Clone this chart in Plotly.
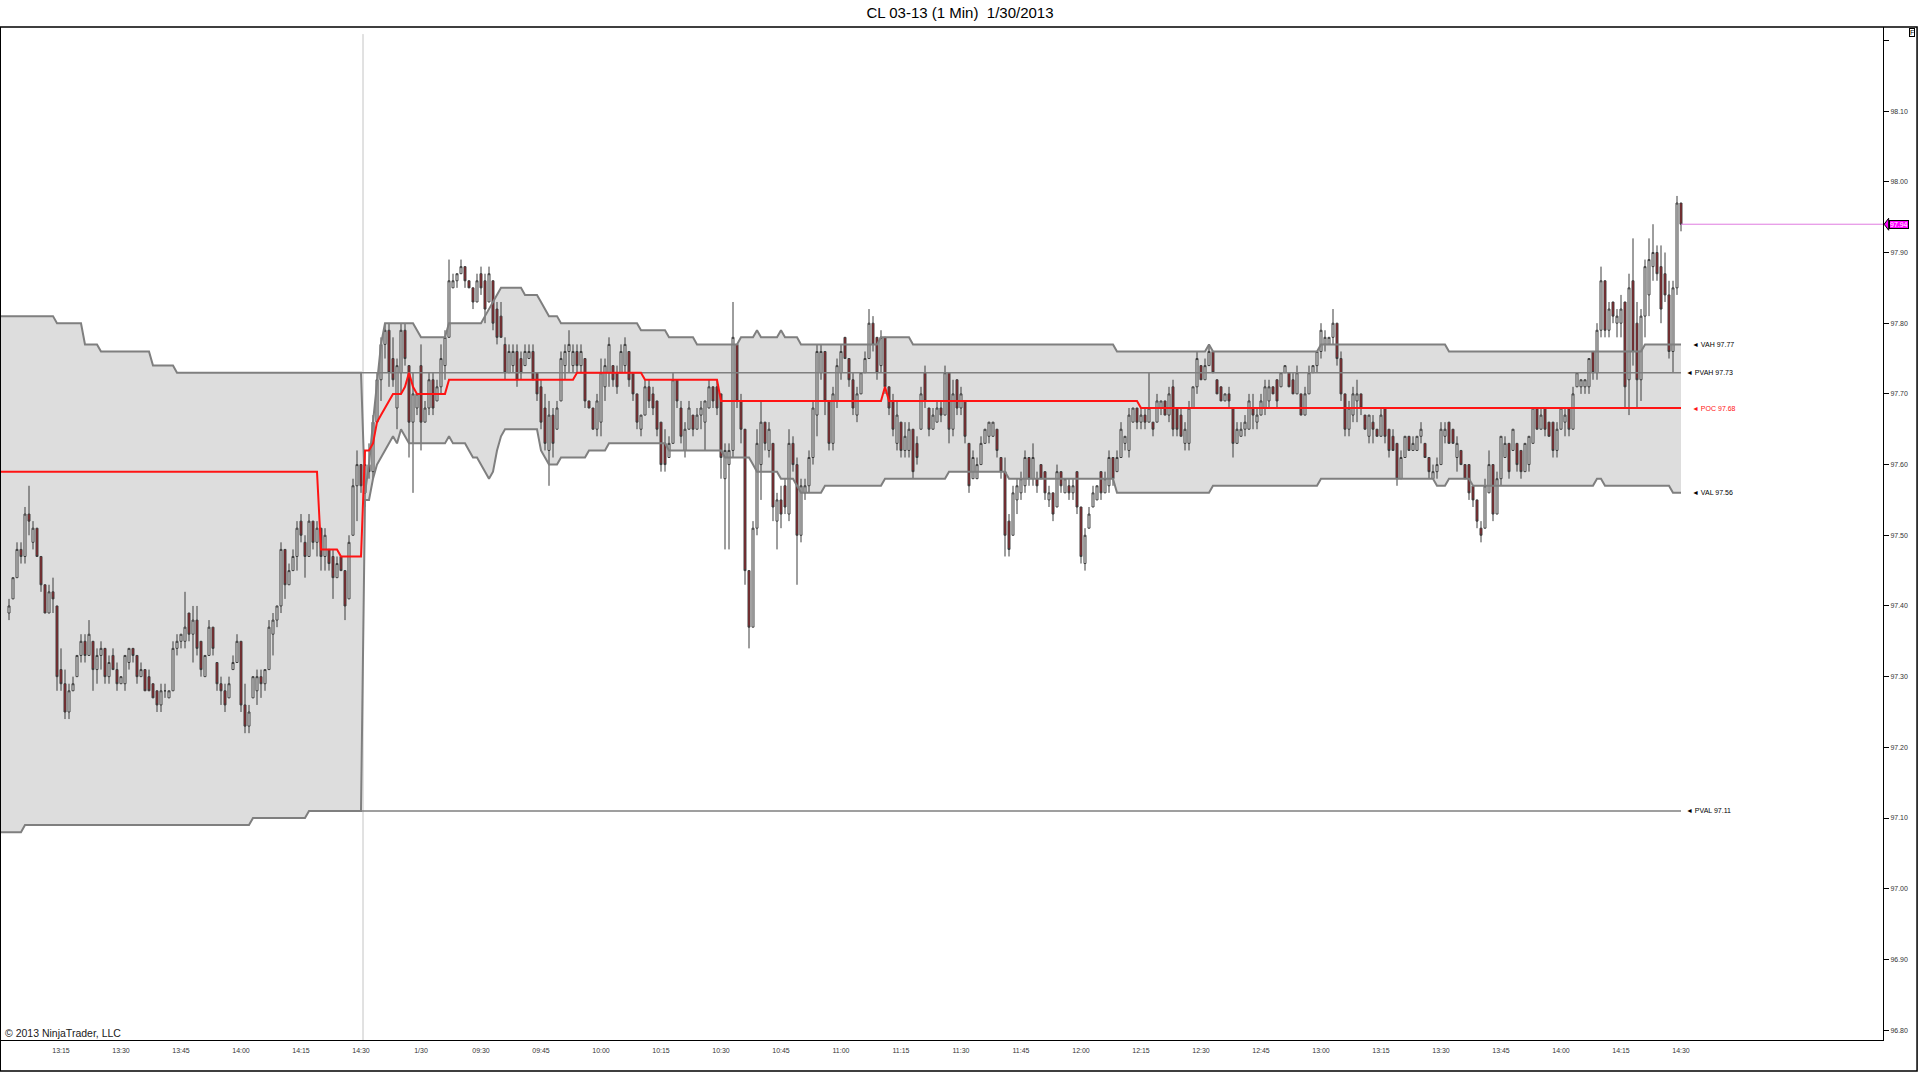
import plotly.graph_objects as go

# CL 03-13, 1 minute bars.  Session 1 = 1/29 13:02..14:30, session 2 = 1/30 09:01..14:30
S1_OPEN = [
    97.39, 97.41, 97.44, 97.48, 97.47, 97.53, 97.49, 97.51, 97.47, 97.43,
    97.39, 97.42, 97.40, 97.31, 97.29, 97.25, 97.28, 97.30, 97.33, 97.35,
    97.33, 97.35, 97.31, 97.33, 97.34, 97.30, 97.33, 97.31, 97.29, 97.29,
    97.32, 97.34, 97.33, 97.30, 97.31, 97.30, 97.29, 97.28, 97.26, 97.28,
    97.27, 97.28, 97.34, 97.35, 97.35, 97.39, 97.36, 97.38, 97.35, 97.30,
    97.33, 97.37, 97.32, 97.29, 97.28, 97.27, 97.31, 97.32, 97.35, 97.26,
    97.23, 97.27, 97.28, 97.30, 97.29, 97.31, 97.36, 97.38, 97.40, 97.48,
    97.43, 97.45, 97.47, 97.52, 97.49, 97.47, 97.52, 97.49, 97.51, 97.47,
    97.48, 97.47, 97.44, 97.47, 97.45, 97.41, 97.50, 97.57, 97.60]
S1_HIGH = [
    97.41, 97.44, 97.49, 97.49, 97.54, 97.57, 97.52, 97.51, 97.47, 97.43,
    97.43, 97.44, 97.40, 97.34, 97.31, 97.29, 97.30, 97.33, 97.36, 97.36,
    97.38, 97.35, 97.34, 97.35, 97.34, 97.33, 97.34, 97.32, 97.30, 97.33,
    97.34, 97.34, 97.33, 97.32, 97.31, 97.31, 97.29, 97.28, 97.29, 97.29,
    97.28, 97.35, 97.36, 97.36, 97.42, 97.39, 97.40, 97.40, 97.35, 97.33,
    97.38, 97.37, 97.32, 97.30, 97.29, 97.30, 97.33, 97.36, 97.35, 97.29,
    97.26, 97.30, 97.31, 97.31, 97.31, 97.38, 97.39, 97.40, 97.49, 97.48,
    97.46, 97.48, 97.52, 97.53, 97.50, 97.53, 97.52, 97.52, 97.51, 97.51,
    97.48, 97.48, 97.47, 97.47, 97.45, 97.50, 97.58, 97.62, 97.60]
S1_LOW = [
    97.38, 97.41, 97.44, 97.46, 97.46, 97.50, 97.48, 97.47, 97.42, 97.39,
    97.39, 97.39, 97.28, 97.28, 97.24, 97.24, 97.28, 97.30, 97.32, 97.32,
    97.33, 97.28, 97.29, 97.31, 97.29, 97.29, 97.31, 97.28, 97.29, 97.28,
    97.31, 97.32, 97.29, 97.30, 97.28, 97.28, 97.27, 97.25, 97.25, 97.27,
    97.27, 97.28, 97.33, 97.34, 97.34, 97.35, 97.32, 97.33, 97.30, 97.30,
    97.33, 97.33, 97.28, 97.26, 97.25, 97.27, 97.31, 97.32, 97.25, 97.22,
    97.22, 97.27, 97.26, 97.27, 97.28, 97.31, 97.33, 97.37, 97.39, 97.41,
    97.43, 97.45, 97.45, 97.49, 97.44, 97.47, 97.48, 97.47, 97.45, 97.45,
    97.45, 97.41, 97.44, 97.45, 97.38, 97.41, 97.50, 97.52, 97.56]
S1_CLOSE = [
    97.40, 97.44, 97.48, 97.47, 97.53, 97.52, 97.51, 97.47, 97.43, 97.39,
    97.42, 97.41, 97.30, 97.29, 97.25, 97.28, 97.29, 97.33, 97.35, 97.33,
    97.36, 97.31, 97.33, 97.34, 97.30, 97.32, 97.31, 97.29, 97.30, 97.33,
    97.34, 97.33, 97.30, 97.31, 97.28, 97.28, 97.27, 97.26, 97.28, 97.28,
    97.28, 97.34, 97.35, 97.36, 97.37, 97.36, 97.38, 97.34, 97.31, 97.33,
    97.37, 97.34, 97.29, 97.28, 97.26, 97.29, 97.32, 97.35, 97.26, 97.23,
    97.25, 97.30, 97.30, 97.29, 97.31, 97.37, 97.38, 97.40, 97.48, 97.43,
    97.45, 97.47, 97.51, 97.50, 97.47, 97.52, 97.49, 97.51, 97.47, 97.50,
    97.46, 97.44, 97.46, 97.45, 97.40, 97.49, 97.57, 97.60, 97.57]

S2_OPEN = [
    97.56, 97.60, 97.59, 97.66, 97.72, 97.77, 97.79, 97.75, 97.68, 97.73,
    97.79, 97.74, 97.66, 97.68, 97.74, 97.66, 97.68, 97.72, 97.69, 97.71,
    97.74, 97.78, 97.85, 97.86, 97.87, 97.88, 97.86, 97.85, 97.83, 97.87,
    97.86, 97.83, 97.86, 97.82, 97.81, 97.77, 97.73, 97.74, 97.76, 97.75,
    97.74, 97.75, 97.76, 97.73, 97.71, 97.68, 97.62, 97.67, 97.65, 97.69,
    97.74, 97.76, 97.74, 97.76, 97.74, 97.75, 97.69, 97.68, 97.65, 97.66,
    97.71, 97.73, 97.74, 97.73, 97.73, 97.74, 97.76, 97.73, 97.70, 97.65,
    97.67, 97.71, 97.70, 97.69, 97.66, 97.63, 97.61, 97.63, 97.72, 97.68,
    97.62, 97.65, 97.67, 97.65, 97.67, 97.66, 97.68, 97.71, 97.71, 97.70,
    97.58, 97.60, 97.62, 97.77, 97.69, 97.65, 97.45, 97.37, 97.51, 97.60,
    97.66, 97.62, 97.63, 97.52, 97.55, 97.57, 97.53, 97.63, 97.60, 97.50,
    97.56, 97.57, 97.61, 97.67, 97.73, 97.76, 97.69, 97.63, 97.69, 97.73,
    97.78, 97.75, 97.72, 97.67, 97.70, 97.73, 97.75, 97.80, 97.78, 97.74,
    97.78, 97.71, 97.69, 97.63, 97.66, 97.62, 97.62, 97.65, 97.63, 97.65,
    97.73, 97.68, 97.65, 97.66, 97.68, 97.67, 97.73, 97.65, 97.72, 97.68,
    97.69, 97.63, 97.58, 97.58, 97.60, 97.63, 97.64, 97.64, 97.65, 97.61,
    97.59, 97.52, 97.50, 97.55, 97.56, 97.57, 97.61, 97.58, 97.58, 97.60,
    97.59, 97.55, 97.56, 97.54, 97.59, 97.56, 97.57, 97.56, 97.59, 97.54,
    97.46, 97.51, 97.54, 97.55, 97.59, 97.56, 97.57, 97.61, 97.59, 97.61,
    97.63, 97.62, 97.66, 97.68, 97.66, 97.67, 97.66, 97.66, 97.66, 97.68,
    97.69, 97.67, 97.71, 97.68, 97.67, 97.63, 97.63, 97.68, 97.71, 97.74,
    97.72, 97.74, 97.76, 97.72, 97.71, 97.69, 97.70, 97.68, 97.63, 97.64,
    97.65, 97.65, 97.68, 97.66, 97.67, 97.68, 97.69, 97.71, 97.72, 97.71,
    97.73, 97.73, 97.72, 97.70, 97.70, 97.67, 97.70, 97.73, 97.74, 97.76,
    97.77, 97.77, 97.78, 97.80, 97.75, 97.70, 97.65, 97.67, 97.69, 97.70,
    97.67, 97.64, 97.66, 97.65, 97.64, 97.68, 97.65, 97.64, 97.63, 97.58,
    97.61, 97.64, 97.62, 97.62, 97.64, 97.63, 97.61, 97.58, 97.59, 97.60,
    97.64, 97.66, 97.65, 97.61, 97.62, 97.60, 97.60, 97.57, 97.55, 97.51,
    97.51, 97.56, 97.60, 97.53, 97.58, 97.61, 97.63, 97.62, 97.63, 97.62,
    97.59, 97.60, 97.63, 97.68, 97.65, 97.68, 97.66, 97.66, 97.62, 97.65,
    97.66, 97.68, 97.65, 97.71, 97.71, 97.71, 97.71, 97.76, 97.73, 97.79,
    97.86, 97.79, 97.83, 97.80, 97.80, 97.83, 97.72, 97.86, 97.80, 97.72,
    97.81, 97.84, 97.88, 97.90, 97.88, 97.87, 97.84, 97.76, 97.85, 97.97]
S2_HIGH = [
    97.62, 97.63, 97.67, 97.73, 97.78, 97.80, 97.80, 97.78, 97.75, 97.80,
    97.80, 97.74, 97.73, 97.70, 97.77, 97.69, 97.73, 97.73, 97.72, 97.77,
    97.79, 97.89, 97.87, 97.87, 97.89, 97.88, 97.86, 97.85, 97.87, 97.88,
    97.87, 97.88, 97.86, 97.83, 97.83, 97.78, 97.77, 97.77, 97.77, 97.76,
    97.77, 97.77, 97.77, 97.73, 97.72, 97.70, 97.69, 97.68, 97.69, 97.76,
    97.77, 97.79, 97.77, 97.77, 97.77, 97.75, 97.69, 97.68, 97.70, 97.75,
    97.75, 97.78, 97.74, 97.74, 97.77, 97.78, 97.76, 97.73, 97.70, 97.67,
    97.72, 97.72, 97.71, 97.69, 97.66, 97.65, 97.64, 97.73, 97.72, 97.69,
    97.66, 97.69, 97.67, 97.68, 97.69, 97.69, 97.72, 97.71, 97.72, 97.70,
    97.63, 97.63, 97.83, 97.77, 97.70, 97.65, 97.45, 97.52, 97.65, 97.69,
    97.66, 97.66, 97.63, 97.56, 97.57, 97.58, 97.65, 97.64, 97.61, 97.58,
    97.58, 97.62, 97.69, 97.77, 97.77, 97.76, 97.69, 97.71, 97.75, 97.77,
    97.78, 97.75, 97.73, 97.71, 97.73, 97.76, 97.82, 97.81, 97.78, 97.79,
    97.78, 97.71, 97.70, 97.69, 97.66, 97.66, 97.66, 97.65, 97.64, 97.71,
    97.74, 97.68, 97.68, 97.69, 97.69, 97.74, 97.73, 97.72, 97.72, 97.71,
    97.69, 97.63, 97.62, 97.61, 97.64, 97.65, 97.66, 97.66, 97.65, 97.61,
    97.61, 97.53, 97.57, 97.58, 97.59, 97.62, 97.61, 97.63, 97.59, 97.60,
    97.59, 97.57, 97.56, 97.60, 97.59, 97.58, 97.58, 97.58, 97.59, 97.54,
    97.51, 97.54, 97.57, 97.57, 97.59, 97.59, 97.62, 97.61, 97.62, 97.66,
    97.64, 97.68, 97.68, 97.68, 97.68, 97.68, 97.73, 97.66, 97.70, 97.69,
    97.69, 97.71, 97.72, 97.68, 97.68, 97.66, 97.69, 97.71, 97.76, 97.74,
    97.75, 97.77, 97.76, 97.72, 97.71, 97.70, 97.71, 97.68, 97.66, 97.66,
    97.67, 97.70, 97.70, 97.68, 97.70, 97.72, 97.72, 97.71, 97.72, 97.73,
    97.74, 97.73, 97.73, 97.74, 97.70, 97.71, 97.74, 97.74, 97.76, 97.80,
    97.79, 97.78, 97.82, 97.80, 97.76, 97.70, 97.69, 97.71, 97.72, 97.70,
    97.67, 97.67, 97.67, 97.65, 97.68, 97.68, 97.65, 97.65, 97.63, 97.62,
    97.64, 97.64, 97.64, 97.64, 97.66, 97.63, 97.61, 97.60, 97.61, 97.66,
    97.66, 97.66, 97.65, 97.64, 97.62, 97.60, 97.60, 97.57, 97.55, 97.52,
    97.58, 97.62, 97.60, 97.59, 97.64, 97.64, 97.63, 97.65, 97.63, 97.62,
    97.63, 97.64, 97.68, 97.68, 97.68, 97.68, 97.66, 97.66, 97.66, 97.68,
    97.68, 97.68, 97.71, 97.73, 97.72, 97.72, 97.75, 97.76, 97.80, 97.88,
    97.86, 97.83, 97.83, 97.82, 97.84, 97.83, 97.87, 97.92, 97.83, 97.82,
    97.89, 97.92, 97.94, 97.91, 97.91, 97.90, 97.86, 97.86, 97.98, 97.97]
S2_LOW = [
    97.54, 97.58, 97.58, 97.66, 97.69, 97.75, 97.71, 97.71, 97.65, 97.70,
    97.74, 97.61, 97.56, 97.67, 97.62, 97.66, 97.67, 97.67, 97.69, 97.70,
    97.72, 97.78, 97.85, 97.85, 97.87, 97.85, 97.85, 97.82, 97.83, 97.84,
    97.80, 97.83, 97.79, 97.77, 97.78, 97.72, 97.73, 97.73, 97.71, 97.72,
    97.74, 97.75, 97.72, 97.69, 97.65, 97.62, 97.57, 97.61, 97.65, 97.69,
    97.72, 97.73, 97.73, 97.73, 97.73, 97.68, 97.68, 97.65, 97.64, 97.64,
    97.69, 97.71, 97.71, 97.70, 97.73, 97.73, 97.71, 97.69, 97.65, 97.64,
    97.67, 97.68, 97.67, 97.64, 97.59, 97.59, 97.61, 97.63, 97.68, 97.63,
    97.61, 97.65, 97.64, 97.65, 97.65, 97.62, 97.68, 97.68, 97.67, 97.58,
    97.48, 97.48, 97.61, 97.68, 97.63, 97.43, 97.34, 97.37, 97.50, 97.55,
    97.62, 97.61, 97.52, 97.48, 97.51, 97.53, 97.52, 97.59, 97.43, 97.49,
    97.55, 97.56, 97.60, 97.64, 97.72, 97.67, 97.62, 97.62, 97.68, 97.72,
    97.75, 97.71, 97.67, 97.66, 97.70, 97.73, 97.75, 97.76, 97.72, 97.73,
    97.70, 97.67, 97.64, 97.62, 97.61, 97.61, 97.61, 97.58, 97.60, 97.65,
    97.68, 97.64, 97.65, 97.66, 97.66, 97.67, 97.63, 97.64, 97.67, 97.67,
    97.63, 97.56, 97.58, 97.58, 97.60, 97.63, 97.63, 97.64, 97.61, 97.58,
    97.47, 97.47, 97.50, 97.53, 97.55, 97.56, 97.57, 97.57, 97.56, 97.58,
    97.55, 97.54, 97.52, 97.54, 97.56, 97.56, 97.55, 97.55, 97.53, 97.46,
    97.45, 97.51, 97.54, 97.55, 97.55, 97.56, 97.56, 97.57, 97.59, 97.61,
    97.62, 97.61, 97.66, 97.65, 97.65, 97.65, 97.66, 97.64, 97.66, 97.67,
    97.67, 97.66, 97.64, 97.64, 97.64, 97.62, 97.62, 97.68, 97.70, 97.72,
    97.72, 97.74, 97.73, 97.70, 97.69, 97.69, 97.68, 97.61, 97.63, 97.64,
    97.64, 97.65, 97.65, 97.65, 97.67, 97.67, 97.68, 97.70, 97.68, 97.71,
    97.73, 97.71, 97.70, 97.70, 97.67, 97.67, 97.70, 97.73, 97.73, 97.75,
    97.76, 97.77, 97.77, 97.74, 97.69, 97.64, 97.64, 97.66, 97.66, 97.67,
    97.65, 97.63, 97.63, 97.64, 97.64, 97.63, 97.61, 97.62, 97.57, 97.58,
    97.61, 97.62, 97.62, 97.62, 97.63, 97.61, 97.58, 97.58, 97.58, 97.60,
    97.63, 97.63, 97.63, 97.59, 97.60, 97.58, 97.55, 97.54, 97.51, 97.49,
    97.51, 97.56, 97.52, 97.53, 97.57, 97.61, 97.58, 97.62, 97.59, 97.58,
    97.59, 97.59, 97.63, 97.65, 97.65, 97.64, 97.64, 97.61, 97.61, 97.65,
    97.64, 97.64, 97.65, 97.71, 97.70, 97.70, 97.70, 97.72, 97.72, 97.78,
    97.78, 97.78, 97.80, 97.78, 97.78, 97.68, 97.67, 97.74, 97.68, 97.69,
    97.78, 97.81, 97.86, 97.86, 97.80, 97.83, 97.75, 97.73, 97.84, 97.93]
S2_CLOSE = [
    97.60, 97.59, 97.66, 97.72, 97.77, 97.79, 97.73, 97.72, 97.74, 97.79,
    97.75, 97.66, 97.70, 97.70, 97.66, 97.68, 97.72, 97.68, 97.71, 97.75,
    97.78, 97.86, 97.86, 97.87, 97.88, 97.86, 97.85, 97.83, 97.86, 97.85,
    97.82, 97.87, 97.80, 97.78, 97.78, 97.73, 97.76, 97.76, 97.72, 97.73,
    97.76, 97.76, 97.72, 97.70, 97.66, 97.63, 97.67, 97.63, 97.68, 97.75,
    97.76, 97.77, 97.76, 97.74, 97.76, 97.69, 97.68, 97.65, 97.69, 97.73,
    97.74, 97.77, 97.72, 97.71, 97.76, 97.77, 97.72, 97.70, 97.66, 97.67,
    97.71, 97.69, 97.68, 97.65, 97.60, 97.60, 97.63, 97.72, 97.69, 97.64,
    97.65, 97.68, 97.65, 97.67, 97.68, 97.69, 97.71, 97.69, 97.68, 97.61,
    97.62, 97.62, 97.78, 97.69, 97.65, 97.45, 97.37, 97.51, 97.63, 97.66,
    97.63, 97.65, 97.54, 97.55, 97.53, 97.54, 97.63, 97.60, 97.50, 97.57,
    97.57, 97.61, 97.68, 97.76, 97.76, 97.69, 97.63, 97.70, 97.74, 97.76,
    97.75, 97.72, 97.68, 97.70, 97.73, 97.75, 97.80, 97.77, 97.73, 97.78,
    97.71, 97.68, 97.65, 97.67, 97.62, 97.64, 97.65, 97.59, 97.61, 97.70,
    97.69, 97.65, 97.67, 97.68, 97.67, 97.73, 97.65, 97.70, 97.68, 97.70,
    97.64, 97.57, 97.61, 97.60, 97.63, 97.65, 97.66, 97.66, 97.62, 97.59,
    97.50, 97.48, 97.56, 97.57, 97.58, 97.61, 97.58, 97.61, 97.57, 97.58,
    97.56, 97.56, 97.53, 97.59, 97.57, 97.58, 97.56, 97.57, 97.54, 97.47,
    97.50, 97.53, 97.56, 97.57, 97.56, 97.58, 97.61, 97.58, 97.61, 97.65,
    97.64, 97.67, 97.68, 97.66, 97.67, 97.66, 97.68, 97.65, 97.69, 97.69,
    97.67, 97.70, 97.65, 97.65, 97.64, 97.65, 97.68, 97.71, 97.75, 97.72,
    97.74, 97.76, 97.73, 97.70, 97.69, 97.70, 97.69, 97.63, 97.65, 97.65,
    97.66, 97.69, 97.67, 97.67, 97.69, 97.71, 97.71, 97.70, 97.69, 97.73,
    97.74, 97.71, 97.70, 97.73, 97.67, 97.70, 97.73, 97.74, 97.76, 97.79,
    97.78, 97.78, 97.80, 97.75, 97.70, 97.65, 97.68, 97.70, 97.70, 97.68,
    97.65, 97.67, 97.65, 97.64, 97.67, 97.64, 97.62, 97.62, 97.58, 97.61,
    97.64, 97.62, 97.63, 97.64, 97.65, 97.61, 97.59, 97.59, 97.60, 97.65,
    97.65, 97.63, 97.63, 97.63, 97.60, 97.58, 97.56, 97.55, 97.52, 97.50,
    97.57, 97.60, 97.53, 97.58, 97.64, 97.63, 97.59, 97.65, 97.60, 97.59,
    97.63, 97.64, 97.68, 97.65, 97.67, 97.65, 97.64, 97.62, 97.65, 97.68,
    97.67, 97.65, 97.70, 97.73, 97.72, 97.72, 97.75, 97.73, 97.79, 97.86,
    97.79, 97.82, 97.81, 97.81, 97.82, 97.71, 97.85, 97.76, 97.72, 97.81,
    97.88, 97.89, 97.90, 97.87, 97.82, 97.84, 97.76, 97.85, 97.97, 97.94]

# developing value area / POC per bar slot, as (value, number of bars) runs
S1_VAH_RUNS = [(97.81, 14), (97.80, 7), (97.77, 4), (97.76, 13), (97.74, 6), (97.73, 47)]
S1_VAL_RUNS = [(97.08, 6), (97.09, 57), (97.10, 14), (97.11, 14)]
S1_POC_RUNS = [(97.59, 80), (97.48, 5), (97.47, 6)]
S2_VAH_RUNS = [(97.56, 1), (97.60, 1), (97.66, 1), (97.72, 1), (97.77, 1), (97.80, 8), (97.79, 1),
               (97.78, 7), (97.80, 9), (97.81, 1), (97.82, 1), (97.83, 1), (97.84, 1), (97.85, 6),
               (97.84, 4), (97.83, 1), (97.82, 1), (97.81, 3), (97.80, 20), (97.79, 7), (97.78, 7),
               (97.77, 11), (97.78, 4), (97.79, 1), (97.78, 5), (97.79, 1), (97.78, 4), (97.77, 20),
               (97.78, 8), (97.77, 51), (97.76, 23), (97.77, 1), (97.76, 27), (97.77, 32),
               (97.76, 49), (97.77, 10)]
S2_VAL_RUNS = [(97.55, 2), (97.58, 1), (97.60, 1), (97.61, 1), (97.62, 1), (97.63, 1), (97.64, 1),
               (97.63, 1), (97.65, 1), (97.64, 1), (97.63, 10), (97.64, 1), (97.63, 4), (97.62, 1),
               (97.61, 2), (97.60, 1), (97.59, 1), (97.58, 1), (97.59, 1), (97.62, 1), (97.64, 1),
               (97.65, 9), (97.62, 1), (97.61, 1), (97.60, 3), (97.61, 7), (97.62, 5), (97.63, 15),
               (97.62, 14), (97.61, 7), (97.60, 1), (97.59, 6), (97.58, 4), (97.57, 1), (97.56, 6),
               (97.57, 15), (97.58, 16), (97.59, 15), (97.58, 27), (97.56, 24), (97.57, 27),
               (97.58, 29), (97.57, 3), (97.58, 6), (97.57, 31), (97.58, 2), (97.57, 17), (97.56, 3)]
S2_POC_RUNS = [(97.62, 2), (97.63, 1), (97.66, 1), (97.67, 1), (97.68, 1), (97.69, 1), (97.70, 3),
               (97.71, 1), (97.73, 1), (97.71, 1), (97.70, 8), (97.72, 32), (97.73, 17), (97.72, 19),
               (97.69, 41), (97.71, 1), (97.69, 63), (97.68, 136)]

PVAH = 97.73
PVAL = 97.11
LAST_PRICE = 97.94

TIME_LABELS = ["13:15", "13:30", "13:45", "14:00", "14:15", "14:30", "1/30", "09:30", "09:45",
               "10:00", "10:15", "10:30", "10:45", "11:00", "11:15", "11:30", "11:45", "12:00",
               "12:15", "12:30", "12:45", "13:00", "13:15", "13:30", "13:45", "14:00", "14:15",
               "14:30"]
PRICE_TICKS = [96.80, 96.90, 97.00, 97.10, 97.20, 97.30, 97.40, 97.50, 97.60, 97.70,
               97.80, 97.90, 98.00, 98.10, 98.20]


def expand(runs):
    out = []
    for v, n in runs:
        out += [v] * n
    return out


FONT = "Liberation Sans, Arial, sans-serif"
BAR_LINE = "#3c3c3c"

# bar slots: one slot per minute, session 1 starts at 13:00 -> slot 0
s1_x = list(range(2, 2 + len(S1_OPEN)))
s2_start = s1_x[-1] + 1
s2_x = list(range(s2_start, s2_start + len(S2_OPEN)))
bar_x = s1_x + s2_x

vah = expand(S1_VAH_RUNS) + expand(S2_VAH_RUNS)
val = expand(S1_VAL_RUNS) + expand(S2_VAL_RUNS)
poc = expand(S1_POC_RUNS) + expand(S2_POC_RUNS)
band_x = list(range(0, len(vah)))
last_x = bar_x[-1]
tick_x = list(range(15, 15 * len(TIME_LABELS) + 1, 15))

fig = go.Figure()

# value-area band fill (shape, so it sits under the candles)
path = "M " + " L ".join(f"{x},{y}" for x, y in zip(band_x, vah))
path += " L " + " L ".join(f"{x},{y}" for x, y in zip(band_x[::-1], val[::-1])) + " Z"
shapes = [
    dict(type="path", path=path, xref="x", yref="y", layer="below",
         fillcolor="rgb(221,221,221)", line=dict(width=0)),
    # session break
    dict(type="line", xref="x", yref="paper", x0=s2_start - 0.5, x1=s2_start - 0.5,
         y0=0, y1=0.993, layer="below", line=dict(color="#c4c4c4", width=1)),
    # outer frame
    dict(type="rect", xref="paper", yref="paper", x0=-0.0004, x1=1.0181, y0=-0.0306, y1=1.0,
         line=dict(color="black", width=1.5), fillcolor="rgba(0,0,0,0)"),
    # last price pointer
    dict(type="path", xref="paper", yref="y",
         path=f"M 1.0006,{LAST_PRICE} L 1.0030,{LAST_PRICE + 0.0085} L 1.0030,{LAST_PRICE - 0.0085} Z",
         fillcolor="#ff00ff", line=dict(color="black", width=1)),
]

fig.add_trace(go.Candlestick(
    x=bar_x,
    open=S1_OPEN + S2_OPEN, high=S1_HIGH + S2_HIGH,
    low=S1_LOW + S2_LOW, close=S1_CLOSE + S2_CLOSE,
    increasing=dict(line=dict(color=BAR_LINE, width=1), fillcolor="white"),
    decreasing=dict(line=dict(color=BAR_LINE, width=1), fillcolor="#a81f26"),
    whiskerwidth=0, hoverinfo="skip", showlegend=False,
))

# value area outlines
fig.add_trace(go.Scatter(x=band_x, y=vah, mode="lines", line=dict(color="#7f7f7f", width=2),
                         hoverinfo="skip", showlegend=False))
fig.add_trace(go.Scatter(x=band_x, y=val, mode="lines", line=dict(color="#7f7f7f", width=2),
                         hoverinfo="skip", showlegend=False))
# previous session VAH / VAL
fig.add_trace(go.Scatter(x=[s2_start - 1, last_x], y=[PVAH, PVAH], mode="lines",
                         line=dict(color="#7f7f7f", width=1.5), hoverinfo="skip", showlegend=False))
fig.add_trace(go.Scatter(x=[s2_start - 1, last_x], y=[PVAL, PVAL], mode="lines",
                         line=dict(color="#7f7f7f", width=1.5), hoverinfo="skip", showlegend=False))
# developing POC
fig.add_trace(go.Scatter(x=band_x, y=poc, mode="lines", line=dict(color="#ff1414", width=2),
                         hoverinfo="skip", showlegend=False))
# last price line
fig.add_trace(go.Scatter(x=[last_x, 470.5], y=[LAST_PRICE, LAST_PRICE], mode="lines",
                         line=dict(color="#e07ce0", width=1), hoverinfo="skip", showlegend=False))

annotations = []
labels = [("VAH", vah[-1], "black", 2.3), ("PVAH", PVAH, "black", 0.8),
          ("POC", poc[-1], "#ff1414", 2.3), ("VAL", val[-1], "black", 2.3),
          ("PVAL", PVAL, "black", 0.8)]
for name, price, color, dx in labels:
    annotations.append(dict(x=last_x + dx, y=price, xref="x", yref="y", xanchor="left",
                            yanchor="middle", showarrow=False,
                            text=f"\u25c4 {name} {price:.2f}",
                            font=dict(family=FONT, size=7, color=color)))
annotations.append(dict(x=1.0030, y=LAST_PRICE, xref="paper", yref="y", xanchor="left",
                        yanchor="middle", showarrow=False, text=f"{LAST_PRICE:.2f}",
                        bgcolor="#ff00ff", bordercolor="black", borderwidth=1, borderpad=0,
                        font=dict(family=FONT, size=7, color="white")))
annotations.append(dict(x=0.0012, y=0.0069, xref="paper", yref="paper", xanchor="left",
                        yanchor="middle", showarrow=False, text="\u00a9 2013 NinjaTrader, LLC",
                        font=dict(family=FONT, size=10.5, color="#202020")))
annotations.append(dict(x=1.0155, y=0.9945, xref="paper", yref="paper", xanchor="center",
                        yanchor="middle", showarrow=False, text="F", bordercolor="black",
                        borderwidth=1, borderpad=0, font=dict(family=FONT, size=7, color="black")))

fig.update_layout(
    width=1920, height=1074,
    margin=dict(l=1, r=37, t=27, b=34, pad=0),
    paper_bgcolor="white", plot_bgcolor="white",
    title=dict(text="CL 03-13 (1 Min)\u00a0\u00a01/30/2013", x=0.5, xanchor="center",
               y=1 - 13 / 1074, yanchor="middle", yref="container",
               font=dict(family=FONT, size=15, color="black")),
    xaxis=dict(range=[0, 470.5], tickvals=tick_x, ticktext=TIME_LABELS,
               showgrid=False, zeroline=False, showline=True, linecolor="black", linewidth=1,
               ticks="outside", ticklen=4, tickcolor="rgba(0,0,0,0)",
               tickfont=dict(family=FONT, size=7, color="#333333"),
               rangeslider=dict(visible=False), fixedrange=True),
    yaxis=dict(range=[96.786, 98.219], side="right", tickvals=PRICE_TICKS,
               ticktext=[f"{p:.2f}" if p < 98.15 else "" for p in PRICE_TICKS],
               showgrid=False, zeroline=False, showline=True, linecolor="black", linewidth=1,
               ticks="outside", ticklen=5, tickcolor="black", tickwidth=1,
               tickfont=dict(family=FONT, size=7, color="#333333"), fixedrange=True),
    shapes=shapes,
    annotations=annotations,
    showlegend=False,
)

fig.write_html("out.html", config={"displayModeBar": False},
               post_script="document.body.style.margin='0';")
